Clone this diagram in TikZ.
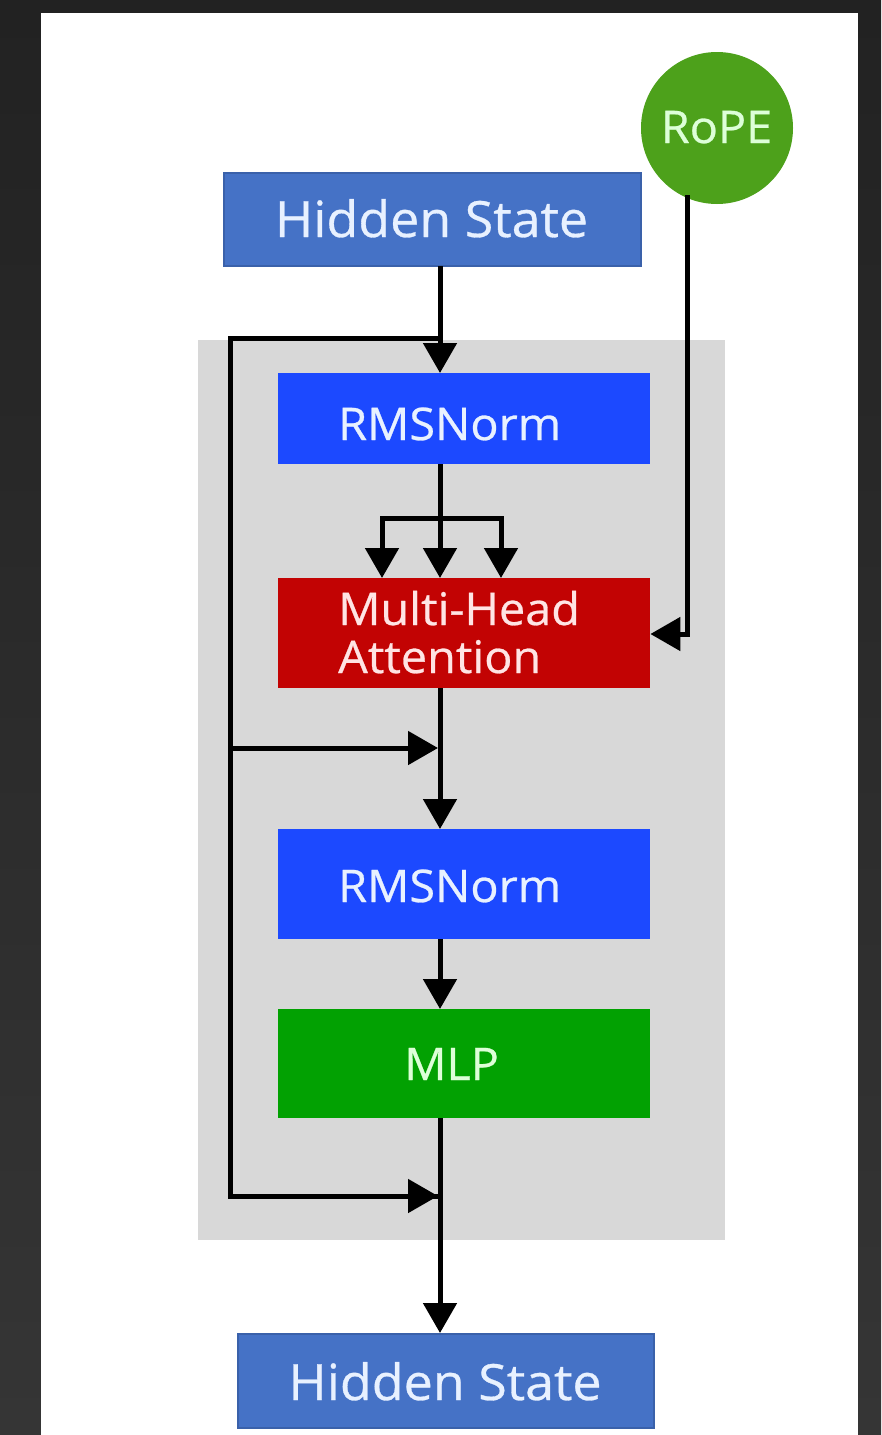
\documentclass[tikz,border=0pt]{standalone}
\usepackage{fontspec}
\setmainfont{Open Sans}[FakeStretch=1.04, FakeBold=0.6]
\usetikzlibrary{arrows.meta}

\definecolor{frameDark}{HTML}{222222}
\definecolor{frameLow}{HTML}{353535}
\definecolor{stateBlue}{HTML}{4572C6}
\definecolor{stateEdge}{HTML}{3A61AA}
\definecolor{normBlue}{HTML}{1C49FF}
\definecolor{attnRed}{HTML}{C20303}
\definecolor{mlpGreen}{HTML}{02A102}
\definecolor{ropeGreen}{HTML}{4DA11B}
\definecolor{blockGray}{HTML}{D8D8D8}
\definecolor{txtBlue}{HTML}{E8F1FF}
\definecolor{txtRed}{HTML}{FFE4E4}
\definecolor{txtGreen}{HTML}{DDFFD8}

\begin{document}
\begin{tikzpicture}[x=1pt, y=-1pt,
  box/.style={rectangle, inner sep=0pt, anchor=north west},
  label/.style={inner sep=0pt, font=\fontsize{45}{48}\selectfont},
  statelabel/.style={inner sep=0pt, anchor=base, text=txtBlue, font=\fontsize{50}{56}\selectfont},
  flow/.style={line width=5pt, -{Triangle[width=33pt, length=30pt]}},
  wire/.style={line width=5pt}
]
\useasboundingbox (0,0) rectangle (881,1435);

% outer frame and page
\shade[top color=frameDark, bottom color=frameLow] (0,0) rectangle (881,1435);
\fill[white] (41,13) rectangle (858,1435);

% decoder block background
\fill[blockGray] (198,340) rectangle (725,1240);

% input hidden state
\node[box, fill=stateBlue, draw=stateEdge, line width=1.5pt,
      minimum width=417pt, minimum height=93pt] (hin) at (223,172) {};
\node[statelabel] (hint) at (431.5,237) {Hidden State};

% rotary position embedding
\node[circle, fill=ropeGreen, minimum size=152pt, inner sep=0pt] (rope) at (717,128) {};
\node[label, anchor=base, text=txtGreen] (ropet) at (716.5,143) {RoPE};

% first norm
\node[box, fill=normBlue, minimum width=372pt, minimum height=91pt] (rms1) at (278,373) {};
\node[label, anchor=base west, text=txtBlue] (rms1t) at (338,440) {RMSNorm};

% attention
\node[box, fill=attnRed, minimum width=372pt, minimum height=110pt] (mha) at (278,578) {};
\node[label, anchor=base west, text=txtRed] (mhat1) at (338,625) {Multi-Head};
\node[label, anchor=base west, text=txtRed] (mhat2) at (338,673) {Attention};

% second norm
\node[box, fill=normBlue, minimum width=372pt, minimum height=110pt] (rms2) at (278,829) {};
\node[label, anchor=base west, text=txtBlue] (rms2t) at (338,902) {RMSNorm};

% feed-forward
\node[box, fill=mlpGreen, minimum width=372pt, minimum height=109pt] (mlp) at (278,1009) {};
\node[label, anchor=base west, text=txtGreen] (mlpt) at (404,1080) {MLP};

% output hidden state
\node[box, fill=stateBlue, draw=stateEdge, line width=1.5pt,
      minimum width=416pt, minimum height=94pt] (hout) at (237,1333) {};
\node[statelabel] (houtt) at (445,1400) {Hidden State};

% junction points on the main path
\coordinate (split) at (440,338);
\coordinate (add1) at (438,748);
\coordinate (add2) at (438,1196);
\coordinate (fan) at (440,518);
\coordinate (ropefoot) at (687,195);

% main path
\draw[flow] (440,266) -- (rms1.north -| split);
\draw[wire] (rms1.south -| split) -- (fan);
\draw[wire, line join=miter] (382,540) -- (382,518) -- (501,518) -- (501,540);
\draw[flow] (fan) -- (mha.north -| fan);
\draw[flow] (382,516) -- (mha.north -| 382,0);
\draw[flow] (501,516) -- (mha.north -| 501,0);
\draw[flow] (mha.south -| split) -- (rms2.north -| split);
\draw[flow] (rms2.south -| split) -- (mlp.north -| split);
\draw[flow] (mlp.south -| split) -- (hout.north -| split);

% residual connections
\draw[wire, line join=miter] (split) -- (230,338) -- (230,1196) -- (add2);
\draw[flow] (228,1196) -- (add2);
\draw[flow] (230,748) -- (add1);

% positional input into attention
\draw[flow, line join=miter] (ropefoot) -- (687,634) -- (mha.east |- 0,634);
\end{tikzpicture}
\end{document}
